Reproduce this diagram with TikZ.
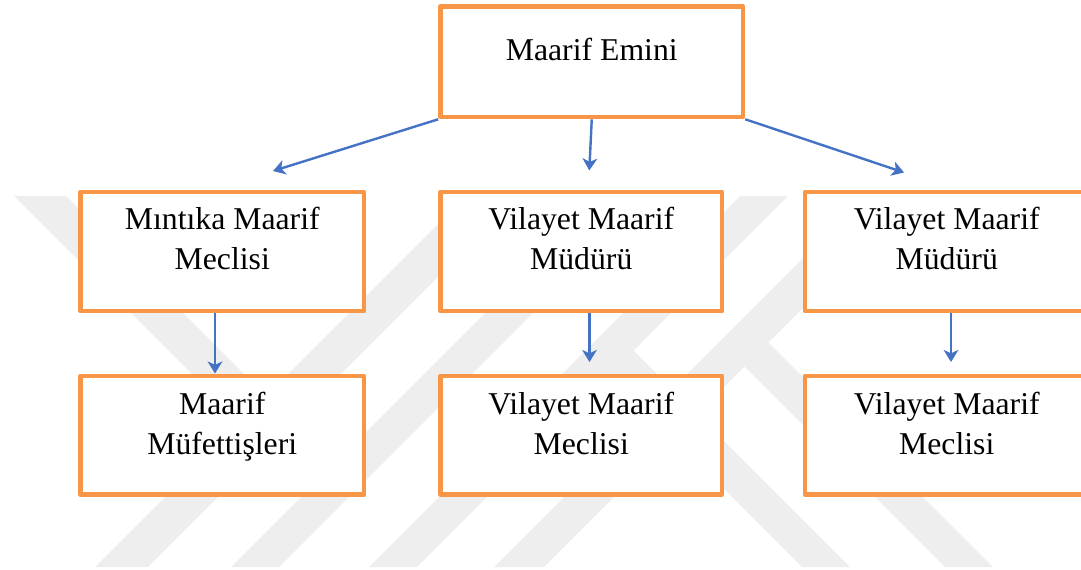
\documentclass[tikz,border=0pt]{standalone}
\usepackage{fontspec}
\setmainfont{Liberation Serif}
\usetikzlibrary{arrows.meta}
\definecolor{boxorange}{RGB}{247,150,70}
\definecolor{arrblue}{RGB}{68,114,196}
\definecolor{wm}{RGB}{238,238,238}
\tikzset{
  orgbox/.style={draw=boxorange, line width=3.4pt, fill=white, rectangle, inner sep=0pt, line join=round},
  lbl/.style={font=\fontsize{23.8}{30}\selectfont, align=center, anchor=base, inner sep=0pt},
  arr/.style={draw=arrblue, line width=1.8pt, -{Stealth[length=9pt,width=11pt,inset=2.5pt]}},
  wmark/.style={fill=wm, draw=none}
}
\begin{document}
\begin{tikzpicture}[x=0.75pt,y=-0.75pt]
\useasboundingbox (0,0) rectangle (1081,570);
% watermark
\fill[wmark] (95,567) -- (148,567) -- (519,196) -- (466,196) -- cycle;
\fill[wmark] (231,567) -- (279,567) -- (650,196) -- (602,196) -- cycle;
\fill[wmark] (369,567) -- (417,567) -- (788,196) -- (740,196) -- cycle;
\fill[wmark] (494,567) -- (544,567) -- (915,196) -- (865,196) -- cycle;
\fill[wmark] (14,196) -- (66,196) -- (286,416) -- (260,442) -- cycle;
\fill[wmark] (802,567) -- (850,567) -- (616.5,333.5) -- (592.5,357.5) -- cycle;
\fill[wmark] (945,567) -- (993,567) -- (756,330) -- (732,354) -- cycle;
% boxes
\node[orgbox, minimum width=226.9pt, minimum height=82.9pt] (top) at (591.75,61.75) {};
\node[orgbox, minimum width=212.6pt, minimum height=89.25pt] (lm) at (222.25,251.5) {};
\node[orgbox, minimum width=211.1pt, minimum height=89.25pt] (mm) at (581.25,251.5) {};
\node[orgbox, minimum width=212.6pt, minimum height=89.25pt] (rm) at (946.75,251.5) {};
\node[orgbox, minimum width=212.6pt, minimum height=88.9pt] (lb) at (222.25,435.25) {};
\node[orgbox, minimum width=211.1pt, minimum height=88.9pt] (mb) at (581.25,435.25) {};
\node[orgbox, minimum width=212.6pt, minimum height=88.9pt] (rb) at (946.75,435.25) {};
% texts (anchor=base is the baseline of the last line)
\node[lbl] (toplbl) at (591.75,61) {Maarif Emini};
\node[lbl] (lmlbl) at (222.25,270) {Mıntıka Maarif\\Meclisi};
\node[lbl] (mmlbl) at (581.25,270) {Vilayet Maarif\\Müdürü};
\node[lbl] (rmlbl) at (946.75,270) {Vilayet Maarif\\Müdürü};
\node[lbl] (lblbl) at (222.25,454.5) {Maarif\\Müfettişleri};
\node[lbl] (mblbl) at (581.25,454.5) {Vilayet Maarif\\Meclisi};
\node[lbl] (rblbl) at (946.75,454.5) {Vilayet Maarif\\Meclisi};
% arrow ends
\coordinate (t1) at (273,171);
\coordinate (t2) at (589.3,170.5);
\coordinate (t3) at (904,172.5);
\coordinate (t4) at (215,373.5);
\coordinate (t5) at (589.5,362);
\coordinate (t6) at (951,362);
% connectors
\draw[arr] (top.south west) -- (t1);
\draw[arr] (top.south) -- (t2);
\draw[arr] (top.south east) -- (t3);
\draw[arr] (lm.south -| t4) -- (t4);
\draw[arr] (mm.south -| t5) -- (t5);
\draw[arr] (rm.south -| t6) -- (t6);
\end{tikzpicture}
\end{document}
